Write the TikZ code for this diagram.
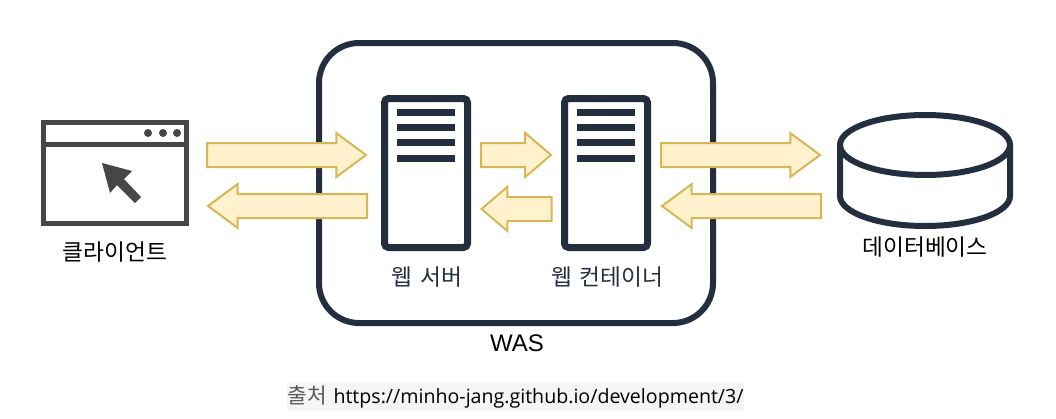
\documentclass[tikz,border=0pt]{standalone}
\usepackage{fontspec}
\setmainfont{Noto Sans CJK KR}
\newfontfamily\latinfont{Liberation Sans}
\newfontfamily\urlfont{Open Sans}
\usetikzlibrary{arrows,shapes.arrows,shapes.geometric,positioning}
\definecolor{navy}{HTML}{232F3E}
\definecolor{winedge}{HTML}{444648}
\definecolor{arrowfill}{HTML}{FFF2CC}
\definecolor{arrowedge}{HTML}{D6B656}

\begin{document}
\begin{tikzpicture}[x=0.75pt,y=-0.75pt]
\tikzstyle{wasbox}=[rectangle,draw=navy,line width=4.5pt,rounded corners=30pt,minimum width=295.5pt,minimum height=210pt]
\tikzstyle{server}=[rectangle,draw=navy,line width=5.25pt,rounded corners=3pt,fill=white,minimum width=62.25pt,minimum height=111.75pt]
\tikzstyle{srvbar}=[rectangle,fill=navy,inner sep=0pt,minimum width=43.5pt,minimum height=5.25pt]
\tikzstyle{window}=[rectangle,draw=winedge,line width=3.75pt,minimum width=107.25pt,minimum height=75.75pt]
\tikzstyle{winbtn}=[circle,fill=winedge,inner sep=0pt,minimum size=6pt]
\tikzstyle{dbtop}=[ellipse,draw=navy,line width=4.5pt,inner sep=0pt,outer sep=0pt,minimum width=127.5pt,minimum height=45pt]
\tikzstyle{bigarrow}=[single arrow,draw=arrowedge,fill=arrowfill,line width=1.5pt,anchor=tail,outer sep=0pt,inner xsep=0pt,inner ysep=8.25pt,single arrow head extend=7.5pt,single arrow tip angle=73,single arrow head indent=0pt,minimum height=119.25pt]
\tikzstyle{smallarrow}=[bigarrow,single arrow tip angle=81,minimum height=52.5pt]
\tikzstyle{tolabel}=[inner sep=0pt,font=\fontsize{17}{20}\selectfont]

\useasboundingbox (0,0) rectangle (1056,418);

\node[wasbox] (was) at (516,183) {};

\node[window] (client) at (115,173) {};
\coordinate (sepline) at (0,144);
\draw[winedge,line width=3.75pt] (client.west |- sepline) -- (client.east |- sepline);
\node[winbtn] (btn1) at (148,133) {};
\node[winbtn] (btn2) at (163,133) {};
\node[winbtn] (btn3) at (177,133) {};
\fill[winedge] (102,163) -- (132,171) -- (124,179) -- (141,197) -- (135,203) -- (117,185) -- (110,193) -- cycle;

\node[server] (websrv) at (426,173) {};
\node[server] (webcon) at (606,173) {};
\foreach \n in {websrv,webcon}
	\foreach \i/\dy in {1/12.75,2/24,3/35.75,4/47.25}
		\node[srvbar] (\n-bar\i) at ([yshift=-\dy pt]\n.north) {};

\node[dbtop] (db) at (925,145) {};
\draw[navy,line width=4.5pt] (db.west) -- ++(0,51) arc[start angle=180,end angle=360,x radius=63.75pt,y radius=22.5pt] -- (db.east);

\node[bigarrow] (req1) at (207,155) {};
\node[bigarrow,shape border rotate=180] (res1) at (367,206) {};
\node[smallarrow] (req2) at (481,155) {};
\node[smallarrow,shape border rotate=180] (res2) at (551.5,209) {};
\node[bigarrow] (req3) at (661,155) {};
\node[bigarrow,shape border rotate=180] (res3) at (821,206) {};

\node[tolabel] (clientlbl) at (115,252) {클라이언트};
\node[tolabel,text=navy] (websrvlbl) at (427,277) {웹\hspace{2pt} 서버};
\node[tolabel,text=navy] (webconlbl) at (607,277) {웹\hspace{2pt} 컨테이너};
\node[tolabel] (dblbl) at (925,247) {데이터베이스};
\node[inner sep=0pt,font=\latinfont\fontsize{18}{20}\selectfont] (waslbl) at (517,343) {WAS};
\node[fill=black!4,inner sep=0pt,minimum width=342.75pt,minimum height=21pt,font=\fontsize{16}{18}\selectfont] (source) at (515.5,397) {\textcolor{black!65}{출처}\hspace{1.5pt} {\urlfont\fontsize{14.7}{18}\selectfont https://minho-jang.github.io/development/3/}};
\end{tikzpicture}
\end{document}
